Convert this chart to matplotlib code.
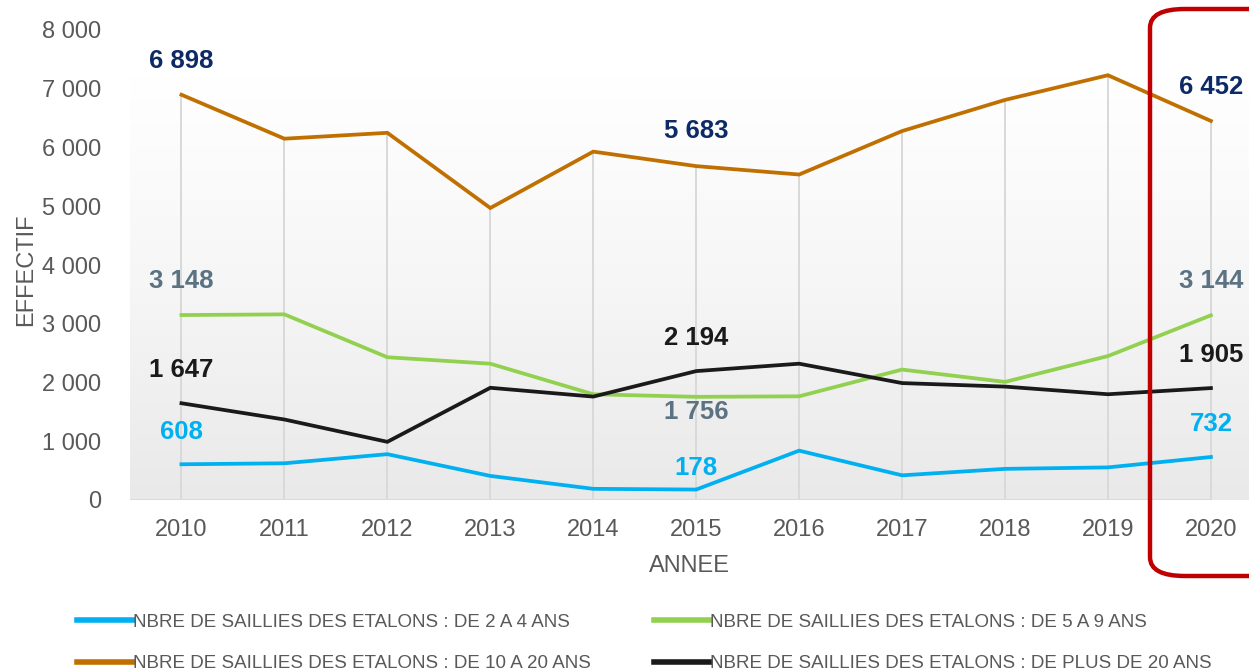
import numpy as np
import matplotlib.pyplot as plt
from matplotlib.ticker import FuncFormatter
from matplotlib.patches import FancyBboxPatch
from matplotlib.colors import LinearSegmentedColormap

plt.rcParams['font.family'] = ['Liberation Sans', 'DejaVu Sans']

# data
annees = [2010, 2011, 2012, 2013, 2014, 2015, 2016, 2017, 2018, 2019, 2020]
de_2_a_4 = [608, 625, 780, 410, 190, 178, 840, 420, 530, 555, 732]
de_5_a_9 = [3148, 3160, 2430, 2320, 1800, 1756, 1765, 2220, 2010, 2450, 3144]
de_10_a_20 = [6898, 6150, 6250, 4970, 5930, 5683, 5540, 6280, 6810, 7230, 6452]
plus_de_20 = [1647, 1370, 990, 1910, 1760, 2194, 2320, 1990, 1930, 1800, 1905]

noms = ["NBRE DE SAILLIES DES ETALONS : DE 2 A 4 ANS",
        "NBRE DE SAILLIES DES ETALONS : DE 5 A 9 ANS",
        "NBRE DE SAILLIES DES ETALONS : DE 10 A 20 ANS",
        "NBRE DE SAILLIES DES ETALONS : DE PLUS DE 20 ANS"]

# years that get value labels, and vertical offset (pixels) per series
annees_labels = [2010, 2015, 2020]
decalages = {
    0: {2010: 32, 2015: 22, 2020: 33},
    1: {2010: 34, 2015: -15, 2020: 34},
    2: {2010: 34, 2015: 35, 2020: 34},
    3: {2010: 33, 2015: 33, 2020: 33},
}

couleurs = ['#00B0F0', '#92D050', '#C07000', '#1A1A1A']
couleurs_labels = ['#00B0F0', '#5B7282', '#0E2A66', '#1A1A1A']
gris = '#595959'

def fmt(v):
    return f"{int(v):,}".replace(",", " ")

fig = plt.figure(figsize=(12.49, 6.71), dpi=100)
ax = fig.add_axes([130 / 1249, 171 / 671, 1 - 130 / 1249, 470 / 671])

x0, x1 = 2009.5, 2020.37
ax.set_xlim(x0, x1)
ax.set_ylim(0, 8000)

# gradient background
cmap = LinearSegmentedColormap.from_list('bg', ['#E9E9E9', '#F6F6F6', '#FFFFFF'])
grad = np.linspace(0, 1, 256).reshape(-1, 1)
ax.imshow(grad, extent=[x0, x1, 0, max(de_10_a_20)], origin='lower', cmap=cmap,
          aspect='auto', zorder=0)

# drop lines from the top series down to zero
ax.vlines(annees, 0, de_10_a_20, color='#D9D9D9', lw=1.4, zorder=1)
ax.hlines(0, x0, annees[-1], color='#D9D9D9', lw=2, zorder=1)

series = [de_2_a_4, de_5_a_9, de_10_a_20, plus_de_20]
lignes = []
for i, s in enumerate(series):
    l, = ax.plot(annees, s, color=couleurs[i], lw=2.7, zorder=3, label=noms[i],
                 solid_joinstyle='miter')
    lignes.append(l)
    for a in annees_labels:
        v = s[annees.index(a)]
        ax.annotate(fmt(v), (a, v), xytext=(0, decalages[i][a]), textcoords='offset pixels',
                    ha='center', va='center', fontsize=18.5, fontweight='bold',
                    color=couleurs_labels[i], zorder=4)

for sp in ax.spines.values():
    sp.set_visible(False)
ax.set_xticks(annees)
ax.set_yticks(range(0, 8001, 1000))
ax.yaxis.set_major_formatter(FuncFormatter(lambda v, p: fmt(v)))
ax.tick_params(axis='both', length=0, labelsize=17, labelcolor=gris)
ax.tick_params(axis='y', pad=21)
ax.tick_params(axis='x', pad=14)
ax.set_xlabel("ANNEE", fontsize=17, color=gris, labelpad=10)
ax.set_ylabel("EFFECTIF", fontsize=17, color=gris)
ax.yaxis.set_label_coords(-0.083, 0.49)

# legend below
leg = fig.legend([lignes[0], lignes[2], lignes[1], lignes[3]],
                 [noms[0], noms[2], noms[1], noms[3]],
                 ncol=2, loc='upper left', bbox_to_anchor=(60 / 1249, 1 - 597 / 671),
                 frameon=False, handlelength=3.0, handletextpad=0.0,
                 columnspacing=3.35, labelspacing=1.3,
                 prop={'family': ['Liberation Sans Narrow', 'Liberation Sans'], 'size': 13.5})
for t in leg.get_texts():
    t.set_color(gris)
for h in leg.legend_handles:
    h.set_linewidth(4)

# red highlight box around 2020
box = FancyBboxPatch((1150 / 1249, (671 - 576) / 671), 150 / 1249, 567 / 671,
                     boxstyle='round,pad=0,rounding_size=0.028', transform=fig.transFigure,
                     fill=False, edgecolor='#C00000', lw=3.2, zorder=10, clip_on=False)
fig.patches.append(box)

fig.savefig('out.png', dpi=100)
